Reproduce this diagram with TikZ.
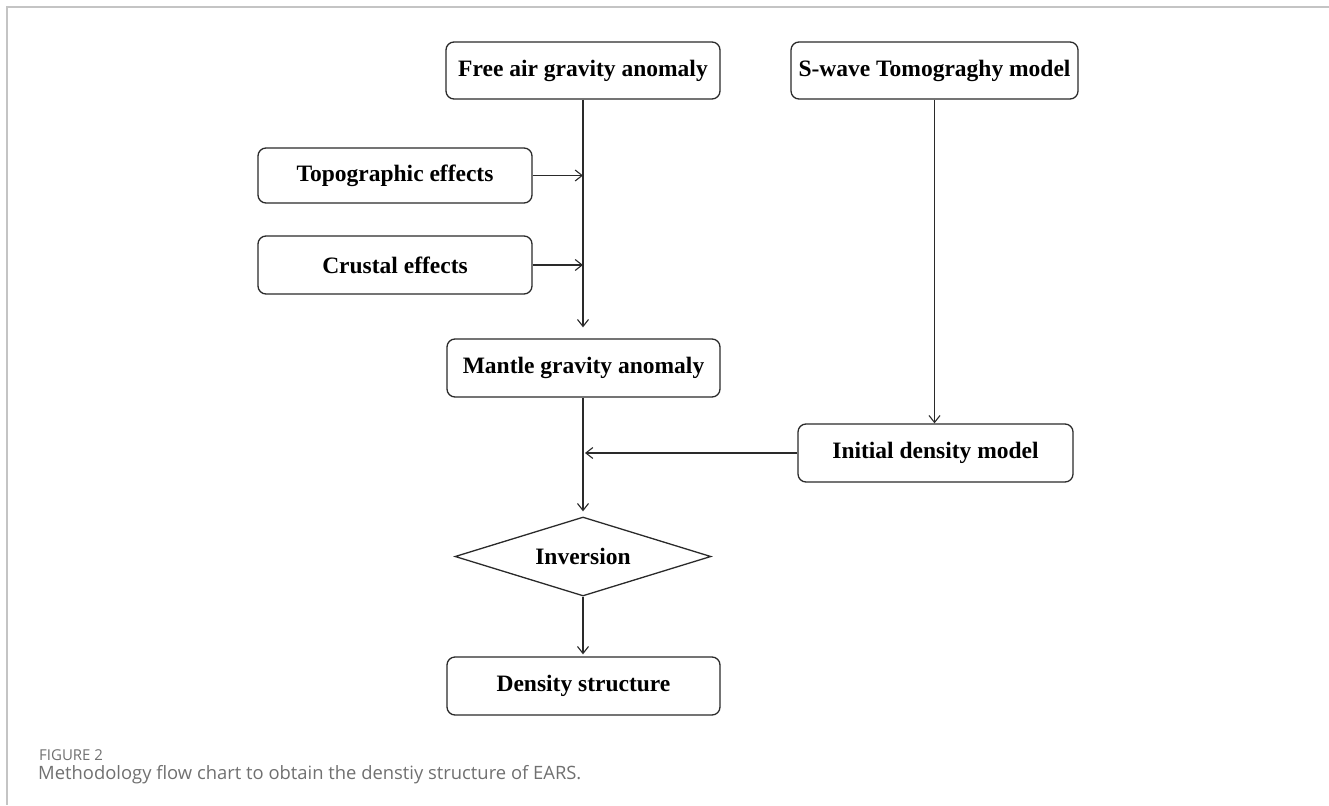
\documentclass[tikz,border=0pt]{standalone}
\usepackage{fontspec}
\setmainfont{Liberation Serif}
\newfontfamily\capfont{Open Sans}
\usetikzlibrary{arrows.meta,shapes.geometric,calc}
\definecolor{framegray}{HTML}{C4C4C4}
\definecolor{capgray}{HTML}{707070}
\definecolor{linec}{HTML}{2A2A2A}
\tikzset{
  box/.style={draw=linec, line width=1.3pt, rounded corners=8pt, inner sep=0pt,
    font=\fontsize{23.5}{26}\selectfont\bfseries, text=black, align=center},
  decision/.style={draw=linec, line width=1.3pt, diamond, aspect=3.24, inner sep=0pt,
    minimum width=256pt, minimum height=79pt,
    font=\fontsize{23.5}{26}\selectfont\bfseries, text=black},
  arr/.style={draw=linec, line width=1.1pt, -{Straight Barb[length=7pt,width=11pt,line width=1.1pt]}},
  framel/.style={draw=framegray, line width=1.5pt},
}
\begin{document}
\begin{tikzpicture}[x=1pt,y=-1pt]
\useasboundingbox (0,0) rectangle (1329,805);
% frame
\coordinate (ftr) at (1329,7);
\coordinate (ftl) at (7,7);
\coordinate (fbl) at (7,805);
\draw[framel] (ftr) -- (ftl) -- (fbl);
% nodes
\node[box, minimum width=274pt, minimum height=57pt] (free) at (583,70.5) {Free air gravity anomaly};
\node[box, minimum width=287pt, minimum height=57pt] (swave) at (934.5,70.5) {S-wave Tomograghy model};
\node[box, minimum width=274pt, minimum height=55pt] (topo) at (395,175.5) {Topographic effects};
\node[box, minimum width=274pt, minimum height=58pt] (crust) at (395,265) {Crustal effects};
\node[box, minimum width=273pt, minimum height=58pt] (mantle) at (583.5,368) {Mantle gravity anomaly};
\node[box, minimum width=275pt, minimum height=58pt] (init) at (935.5,453) {Initial density model};
\node[decision] (inv) at (583,556.5) {Inversion};
\node[box, minimum width=273pt, minimum height=58pt] (dens) at (583.5,686) {Density structure};
% connectors
\draw[arr] (free.south -| inv.north) -- ($(mantle.north -| inv.north)+(0,-11)$);
\draw[arr] (topo.east) -- (topo.east -| inv.north);
\draw[arr] (crust.east) -- (crust.east -| inv.north);
\draw[arr] (swave.south) -- (swave.south |- init.north);
\draw[arr] (init.west) -- ($(init.west -| inv.north)+(2,0)$);
\draw[arr] (mantle.south -| inv.north) -- ($(inv.north)+(0,-5)$);
\draw[arr] (inv.south) -- ($(inv.south |- dens.north)+(0,-2)$);
% caption
\node[anchor=base west, inner sep=0pt, font=\capfont\fontsize{15}{18}\selectfont, text=capgray] (fig) at (39,760) {FIGURE 2};
\node[anchor=base west, inner sep=0pt, font=\capfont\fontsize{18.4}{22}\selectfont, text=capgray] (cap) at (38,779) {Methodology flow chart to obtain the denstiy structure of EARS.};
\end{tikzpicture}
\end{document}
